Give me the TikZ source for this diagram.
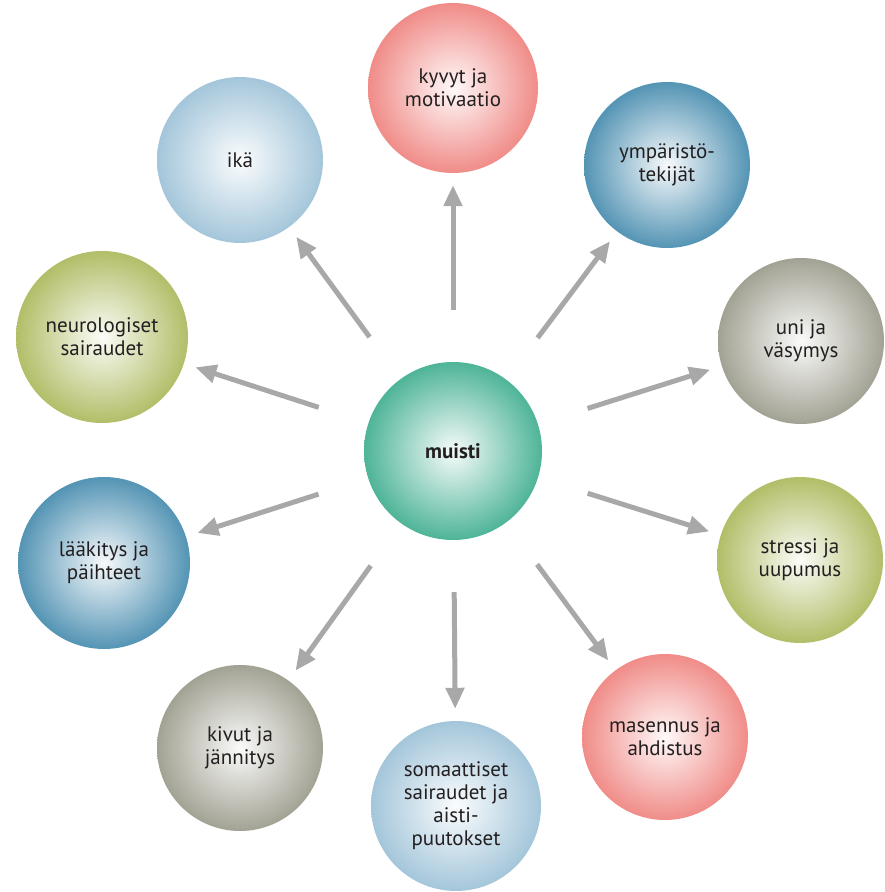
\documentclass[tikz,border=0pt]{standalone}
\usepackage{fontspec}
\setmainfont{PT Sans}
\usetikzlibrary{arrows.meta}
\definecolor{cpink}{RGB}{240,140,136}
\definecolor{cgreen}{RGB}{78,180,152}
\definecolor{cblue}{RGB}{84,148,180}
\definecolor{clblue}{RGB}{164,198,218}
\definecolor{colive}{RGB}{178,190,104}
\definecolor{cgray}{RGB}{162,162,148}
\definecolor{ctext}{RGB}{35,31,32}
\definecolor{carrow}{RGB}{168,168,168}
\tikzset{
  ball/.style={circle, inner sep=0pt, minimum size=#1, align=center,
    text=ctext, font=\fontsize{21}{23}\selectfont},
  ballc/.style={shading=radial, inner color=#1!5!white, outer color=#1},
  link/.style={draw=carrow, line width=5pt,
    -{Triangle[length=21pt,width=18pt]}, shorten <=52pt, shorten >=12pt}
}
\begin{document}
\begin{tikzpicture}[x=1pt,y=1pt]
\useasboundingbox (0,0) rectangle (885,892);
\node[ball=178pt, ballc=cgreen, font=\fontsize{21}{23}\selectfont\bfseries] (m) at (453,441) {muisti};
\node[ball=170pt, ballc=cpink] (k) at (453,804) {kyvyt ja\\motivaatio};
\node[ball=166pt, ballc=cblue] (y) at (667,727) {ympäristö-\\tekijät};
\node[ball=166pt, ballc=cgray] (u) at (801,551) {uni ja\\väsymys};
\node[ball=166pt, ballc=colive] (s) at (800,332) {stressi ja\\uupumus};
\node[ball=166pt, ballc=cpink] (ma) at (665,155) {masennus ja\\ahdistus};
\node[ball=170pt, ballc=clblue] (so) at (456,86) {somaattiset\\sairaudet ja\\aisti-\\puutokset};
\node[ball=166pt, ballc=cgray] (ki) at (240,144) {kivut ja\\jännitys};
\node[ball=172pt, ballc=cblue] (l) at (104,329) {lääkitys ja\\päihteet};
\node[ball=172pt, ballc=colive] (n) at (102,555) {neurologiset\\sairaudet};
\node[ball=166pt, ballc=clblue] (i) at (240,732) {ikä};
\foreach \t in {k,y,u,s,ma,so,ki,l,n,i}
  \draw[link] (m) -- (\t);
\end{tikzpicture}
\end{document}
